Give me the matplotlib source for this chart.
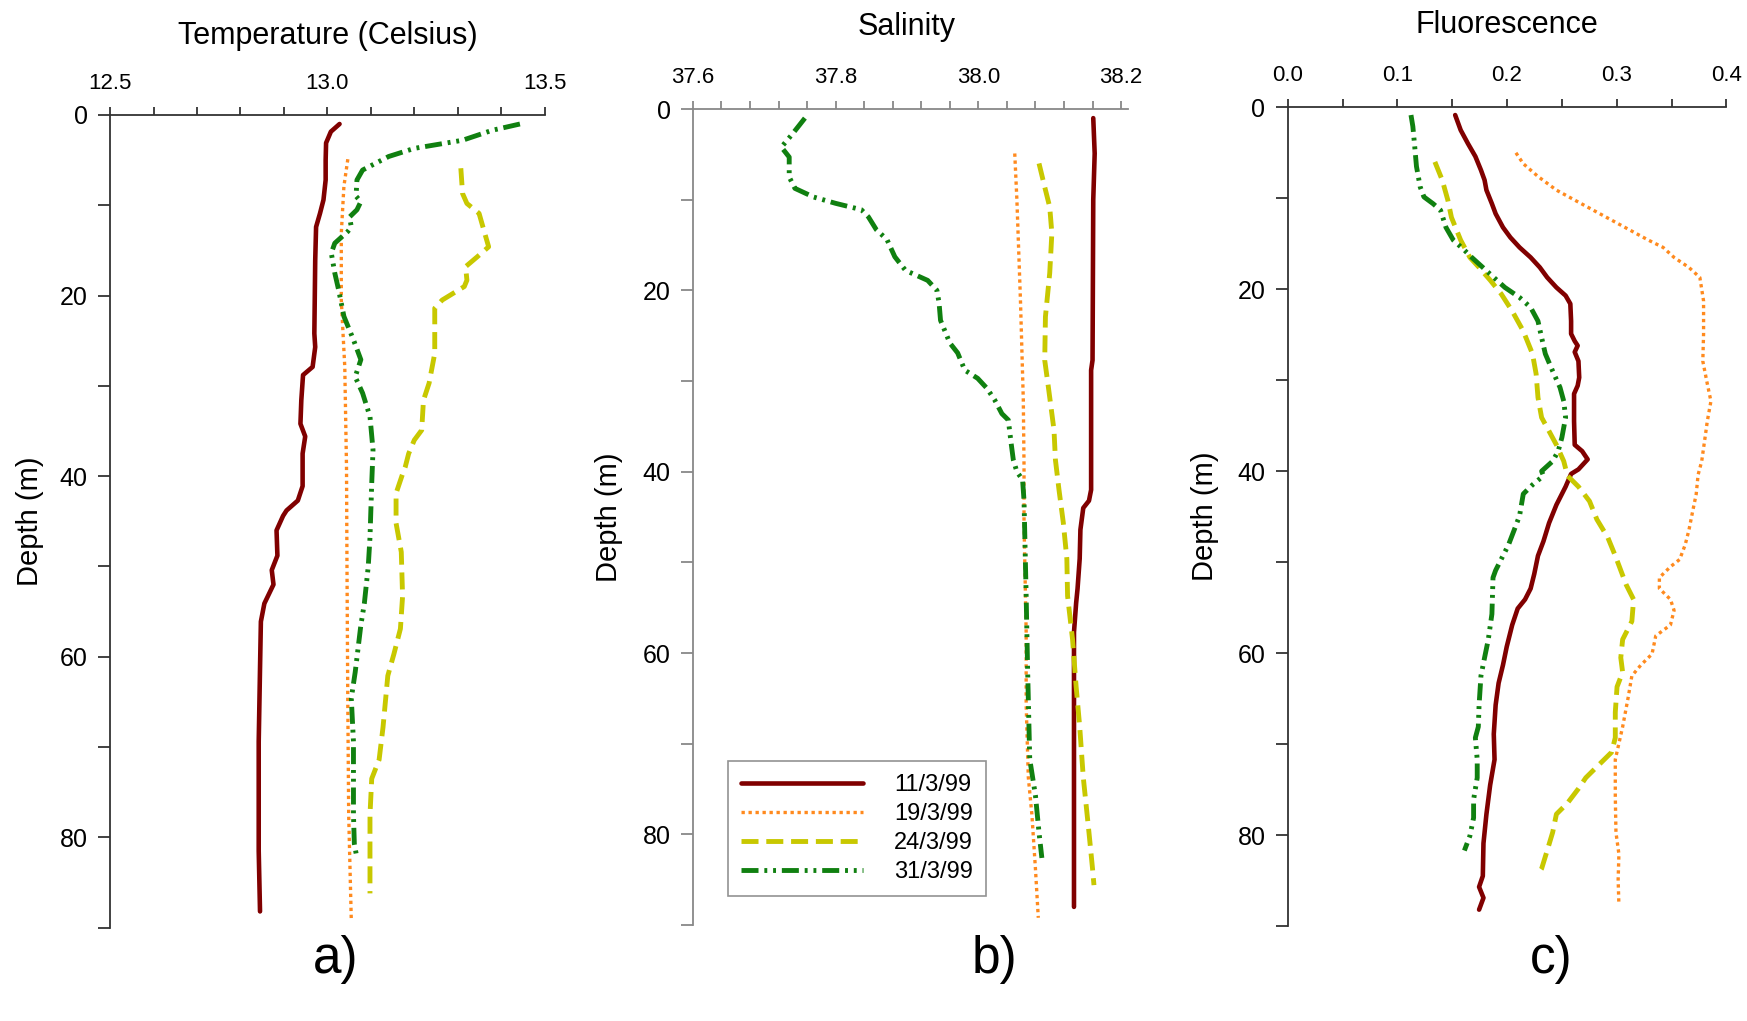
"""
plot.py - CTD profiles (temperature, salinity, fluorescence) for four March 1999 casts
Usage: python plot.py
"""
import matplotlib.pyplot as plt
import numpy as np

plt.rcParams["font.family"] = ["Liberation Sans", "DejaVu Sans"]

DATES = ["11/3/99", "19/3/99", "24/3/99", "31/3/99"]
COLORS = ["#800000", "#FF8A1E", "#C8C800", "#108010"]
STYLES = ["-", (0, (1, 1.1)), (0, (3.5, 1.6)), (0, (3.5, 1.2, 0.6, 1.2, 0.6, 1.2))]
WIDTHS = [3.3, 2.4, 3.5, 3.5]

# ---- temperature (Celsius) ----
temp_d_1 = [1.0, 1.85, 3.1, 5, 7.2, 9.4, 10.9, 12.4, 16.1, 24.2, 25.7, 27.9, 28.8, 31.6, 34.2,
            35.6, 37.5, 41.1, 42.7, 43.8, 44.4, 46.0, 48.8, 50.4, 52.0, 54.1, 56.1, 61.3, 69.4,
            81.5, 88.2]
temp_v_1 = [13.028, 13.008, 12.997, 12.996, 12.996, 12.991, 12.983, 12.974, 12.972, 12.970,
            12.972, 12.966, 12.944, 12.940, 12.938, 12.949, 12.943, 12.943, 12.932, 12.906,
            12.898, 12.883, 12.885, 12.872, 12.876, 12.855, 12.847, 12.845, 12.842, 12.842,
            12.845]
temp_d_2 = [4.9, 7.9, 13.1, 20.5, 27.9, 39.0, 49.2, 65.4, 77.5, 89.2]
temp_v_2 = [13.047, 13.038, 13.032, 13.032, 13.040, 13.044, 13.045, 13.047, 13.049, 13.055]
temp_d_3 = [5.9, 8.7, 9.8, 10.9, 13.1, 14.6, 15.7, 16.8, 18.3, 19.0, 20.5, 21.4, 26.4, 29.7,
            31.6, 34.9, 36.0, 37.5, 39.0, 39.9, 41.9, 45.2, 48.4, 53.3, 56.9, 59.7, 62.1, 67.8,
            71.4, 73.5, 77.5, 86.2]
temp_v_3 = [13.307, 13.311, 13.321, 13.349, 13.362, 13.371, 13.345, 13.318, 13.321, 13.315,
            13.264, 13.247, 13.247, 13.234, 13.221, 13.217, 13.200, 13.187, 13.179, 13.172,
            13.158, 13.158, 13.170, 13.173, 13.168, 13.153, 13.139, 13.128, 13.119, 13.102,
            13.098, 13.098]
temp_d_4 = [1.0, 1.7, 2.8, 3.7, 4.6, 6.1, 7.2, 9.0, 9.6, 10.5, 11.3, 12.4, 12.9, 14.2, 15.3,
            17.5, 19.4, 22.3, 24.9, 27.1, 29.0, 30.8, 33.4, 37.1, 40.8, 46.8, 50.0, 54.1, 56.5,
            61.7, 64.6, 69.4, 77.5, 80.7, 82.3]
temp_v_4 = [13.443, 13.379, 13.311, 13.200, 13.141, 13.081, 13.068, 13.066, 13.077, 13.068,
            13.051, 13.055, 13.047, 13.017, 13.009, 13.017, 13.026, 13.038, 13.060, 13.077,
            13.064, 13.081, 13.098, 13.105, 13.102, 13.098, 13.094, 13.085, 13.077, 13.064,
            13.055, 13.060, 13.060, 13.062, 13.068]

# ---- salinity ----
sal_d_1 = [1.0, 4.9, 10.0, 27.7, 28.8, 39.4, 42.0, 43.2, 44.0, 46.4, 49.6, 52.9, 54.5, 57.7,
           61.7, 88.0]
sal_v_1 = [38.161, 38.163, 38.161, 38.160, 38.158, 38.158, 38.158, 38.155, 38.147, 38.143,
           38.142, 38.139, 38.137, 38.134, 38.134, 38.134]
sal_d_2 = [4.9, 10.0, 21.1, 32.1, 39.4, 45.6, 57.7, 65.7, 73.7, 77.8, 83.8, 89.2]
sal_v_2 = [38.051, 38.054, 38.059, 38.063, 38.064, 38.064, 38.067, 38.067, 38.070, 38.075,
           38.080, 38.084]
sal_d_3 = [6.0, 8.6, 10.8, 13.7, 18.1, 22.9, 27.7, 30.6, 35.4, 38.7, 42.0, 45.6, 49.6, 53.7,
           58.5, 63.7, 68.1, 73.7, 79.8, 83.8, 85.6]
sal_v_3 = [38.085, 38.093, 38.100, 38.103, 38.100, 38.094, 38.093, 38.098, 38.106, 38.108,
           38.113, 38.119, 38.124, 38.125, 38.132, 38.137, 38.142, 38.147, 38.155, 38.160,
           38.162]
sal_d_4 = [1.0, 2.7, 4.2, 5.3, 7.5, 8.75, 9.7, 10.4, 11.1, 11.9, 13.3, 14.4, 16.3, 17.8, 18.9,
           20.0, 21.4, 23.3, 25.8, 26.9, 28.8, 29.7, 30.8, 32.1, 33.6, 34.3, 36.9, 38.7, 40.0,
           40.9, 43.2, 53.7, 61.7, 71.7, 75.7, 79.8, 82.6]
sal_v_4 = [37.757, 37.740, 37.724, 37.735, 37.735, 37.743, 37.769, 37.800, 37.836, 37.846,
           37.857, 37.872, 37.883, 37.898, 37.929, 37.942, 37.945, 37.947, 37.960, 37.971,
           37.981, 37.999, 38.012, 38.023, 38.033, 38.042, 38.046, 38.049, 38.054, 38.062,
           38.064, 38.067, 38.069, 38.072, 38.080, 38.085, 38.089]

# ---- fluorescence ----
fl_d_1 = [0.85, 2.5, 4.0, 5.4, 6.9, 8.0, 9.1, 10.6, 11.7, 13.2, 14.3, 15.4, 16.5, 17.6, 18.7,
          19.8, 20.7, 21.6, 23.5, 24.9, 25.7, 26.2, 26.9, 27.9, 29.7, 30.6, 31.5, 34.5, 37.1,
          37.8, 38.7, 39.8, 40.3, 41.7, 43.7, 45.7, 47.7, 49.3, 51.3, 52.9, 54.1, 55.1, 56.9,
          59.3, 61.3, 63.3, 65.7, 68.9, 71.7, 74.5, 77.7, 80.9, 84.5, 85.7, 86.9, 88.2]
fl_v_1 = [0.1527, 0.1577, 0.1644, 0.1711, 0.1762, 0.1795, 0.1812, 0.1862, 0.1896, 0.1963,
          0.2030, 0.2114, 0.2215, 0.2299, 0.2366, 0.2450, 0.2534, 0.2577, 0.2584, 0.2584,
          0.2617, 0.2644, 0.2617, 0.2651, 0.2658, 0.2644, 0.2611, 0.2611, 0.2617, 0.2685,
          0.2735, 0.2651, 0.2584, 0.2534, 0.2450, 0.2383, 0.2332, 0.2282, 0.2248, 0.2215,
          0.2164, 0.2097, 0.2047, 0.1997, 0.1963, 0.1923, 0.1896, 0.1879, 0.1886, 0.1846,
          0.1812, 0.1785, 0.1779, 0.1745, 0.1785, 0.1745]
fl_d_2 = [5.0, 6.2, 7.6, 9.1, 10.2, 11.3, 12.4, 13.5, 14.6, 15.4, 16.5, 17.6, 18.7, 21.3, 24.9,
          27.9, 30.4, 32.3, 34.5, 36.0, 38.9, 40.4, 42.5, 44.5, 46.5, 48.1, 49.7, 50.5, 51.7,
          52.9, 54.1, 55.3, 56.9, 58.1, 60.1, 61.3, 62.5, 64.9, 68.1, 71.7, 75.7, 79.7, 82.1,
          84.9, 87.7]
fl_v_2 = [0.2081, 0.2148, 0.2282, 0.2450, 0.2617, 0.2785, 0.2953, 0.3121, 0.3289, 0.3423,
          0.3523, 0.3658, 0.3758, 0.3792, 0.3792, 0.3785, 0.3826, 0.3859, 0.3826, 0.3809,
          0.3775, 0.3742, 0.3725, 0.3691, 0.3658, 0.3624, 0.3574, 0.3490, 0.3389, 0.3389,
          0.3490, 0.3523, 0.3490, 0.3356, 0.3322, 0.3221, 0.3138, 0.3104, 0.3054, 0.2987,
          0.2987, 0.2993, 0.3020, 0.3013, 0.3020]
fl_d_3 = [6.0, 8.0, 10.2, 12.1, 14.6, 16.5, 17.6, 19.0, 20.5, 22.4, 24.6, 27.1, 29.3, 31.9,
          34.1, 35.6, 37.1, 38.9, 40.5, 41.7, 43.3, 45.3, 47.3, 49.3, 52.5, 54.1, 56.5, 58.5,
          60.5, 62.1, 63.7, 66.5, 69.3, 70.9, 72.1, 73.7, 74.9, 76.5, 77.7, 79.7, 81.7, 83.7,
          84.3]
fl_v_3 = [0.1342, 0.1409, 0.1460, 0.1493, 0.1577, 0.1661, 0.1745, 0.1846, 0.1946, 0.2047,
          0.2148, 0.2232, 0.2265, 0.2282, 0.2315, 0.2383, 0.2450, 0.2517, 0.2551, 0.2651,
          0.2752, 0.2819, 0.2919, 0.2987, 0.3087, 0.3154, 0.3138, 0.3054, 0.3037, 0.3054,
          0.3003, 0.2987, 0.2987, 0.2953, 0.2852, 0.2718, 0.2651, 0.2550, 0.2450, 0.2416,
          0.2366, 0.2315, 0.2282]
fl_d_4 = [0.85, 2.1, 4.3, 6.5, 8.75, 9.85, 10.6, 11.3, 13.2, 14.6, 15.7, 16.5, 17.6, 18.7, 19.8,
          20.9, 22.0, 23.5, 25.3, 27.1, 29.0, 30.8, 32.3, 34.1, 36.3, 37.8, 38.9, 40.0, 40.5,
          41.5, 42.5, 44.9, 46.5, 48.1, 49.7, 50.9, 51.7, 55.7, 58.5, 60.5, 62.5, 65.7, 68.1,
          69.3, 71.7, 73.7, 76.1, 78.1, 80.1, 81.7]
fl_v_4 = [0.1124, 0.1141, 0.1158, 0.1174, 0.1208, 0.1242, 0.1326, 0.1393, 0.1443, 0.1510,
          0.1611, 0.1678, 0.1779, 0.1879, 0.1980, 0.2114, 0.2215, 0.2282, 0.2315, 0.2349,
          0.2416, 0.2483, 0.2517, 0.2534, 0.2500, 0.2466, 0.2416, 0.2315, 0.2332, 0.2232,
          0.2148, 0.2114, 0.2064, 0.2013, 0.1946, 0.1896, 0.1872, 0.1862, 0.1829, 0.1795,
          0.1762, 0.1745, 0.1738, 0.1711, 0.1728, 0.1728, 0.1695, 0.1695, 0.1661, 0.1611]

PANELS = [
    dict(title="Temperature (Celsius)", tag="a)", xlim=(12.5, 13.5), tick_hi=13.5, step=0.1,
         every=5, spine="#333333", rect=[0.0630, 0.0914, 0.2488, 0.7960],
         title_y=0.9645, tag_x=0.192, ylab_x=-0.184,
         series=[(temp_v_1, temp_d_1), (temp_v_2, temp_d_2), (temp_v_3, temp_d_3), (temp_v_4, temp_d_4)]),
    dict(title="Salinity", tag="b)", xlim=(37.6, 38.209), tick_hi=38.2, step=0.04,
         every=5, spine="#888888", rect=[0.3966, 0.0940, 0.2488, 0.7992],
         title_y=0.9736, tag_x=0.569, ylab_x=-0.193,
         series=[(sal_v_1, sal_d_1), (sal_v_2, sal_d_2), (sal_v_3, sal_d_3), (sal_v_4, sal_d_4)]),
    dict(title="Fluorescence", tag="c)", xlim=(0.0, 0.4), tick_hi=0.4, step=0.05,
         every=2, spine="#333333", rect=[0.7371, 0.0930, 0.2511, 0.8019],
         title_y=0.9755, tag_x=0.888, ylab_x=-0.189,
         series=[(fl_v_1, fl_d_1), (fl_v_2, fl_d_2), (fl_v_3, fl_d_3), (fl_v_4, fl_d_4)]),
]


def style_axes(ax, p):
    lo, hi = p["xlim"]
    n = int(round((p["tick_hi"] - lo) / p["step"]))
    xt = [lo + i * p["step"] for i in range(n + 1)]
    xl = [f"{v:.1f}" if i % p["every"] == 0 else "" for i, v in enumerate(xt)]
    ax.set_xlim(lo, hi)
    ax.set_xticks(xt, xl)
    ax.set_ylim(90, 0)
    yt = list(range(0, 91, 10))
    ax.set_yticks(yt, [str(v) if v % 20 == 0 else "" for v in yt])
    ax.xaxis.tick_top()
    for s in ["right", "bottom"]:
        ax.spines[s].set_visible(False)
    for s in ["top", "left"]:
        ax.spines[s].set_color(p["spine"])
        ax.spines[s].set_linewidth(1.3)
    ax.tick_params(axis="x", direction="out", length=6, width=1.3, color=p["spine"],
                   labelsize=16, pad=9)
    ax.tick_params(axis="y", direction="out", length=9, width=1.3, color=p["spine"],
                   labelsize=18, pad=7)
    ax.set_ylabel("Depth (m)", fontsize=21, va="center")
    ax.yaxis.set_label_coords(p["ylab_x"], 0.5)


def main():
    fig = plt.figure(figsize=(17.47, 10.21), dpi=100)
    for k, p in enumerate(PANELS):
        ax = fig.add_axes(p["rect"])
        for (vals, depth), date, c, ls, lw in zip(p["series"], DATES, COLORS, STYLES, WIDTHS):
            ax.plot(vals, depth, color=c, linestyle=ls, linewidth=lw, label=date,
                    solid_capstyle="round", solid_joinstyle="round")
        style_axes(ax, p)
        xc = p["rect"][0] + p["rect"][2] * (p["tick_hi"] - p["xlim"][0]) / (p["xlim"][1] - p["xlim"][0]) / 2
        fig.text(xc, p["title_y"], p["title"], ha="center", va="center", fontsize=22)
        fig.text(p["tag_x"], 0.060, p["tag"], ha="center", va="center", fontsize=37)
        if k == 1:
            leg = ax.legend(loc="lower left", bbox_to_anchor=(0.08, 0.0355), borderaxespad=0,
                            fontsize=17, handlelength=5.2, handletextpad=1.3,
                            labelspacing=0.3, fancybox=False, borderpad=0.55)
            leg.get_frame().set_edgecolor("#777777")
            leg.get_frame().set_linewidth(1.2)
    fig.savefig("out.png", dpi=100, facecolor="white")
    plt.close(fig)


if __name__ == "__main__":
    main()
